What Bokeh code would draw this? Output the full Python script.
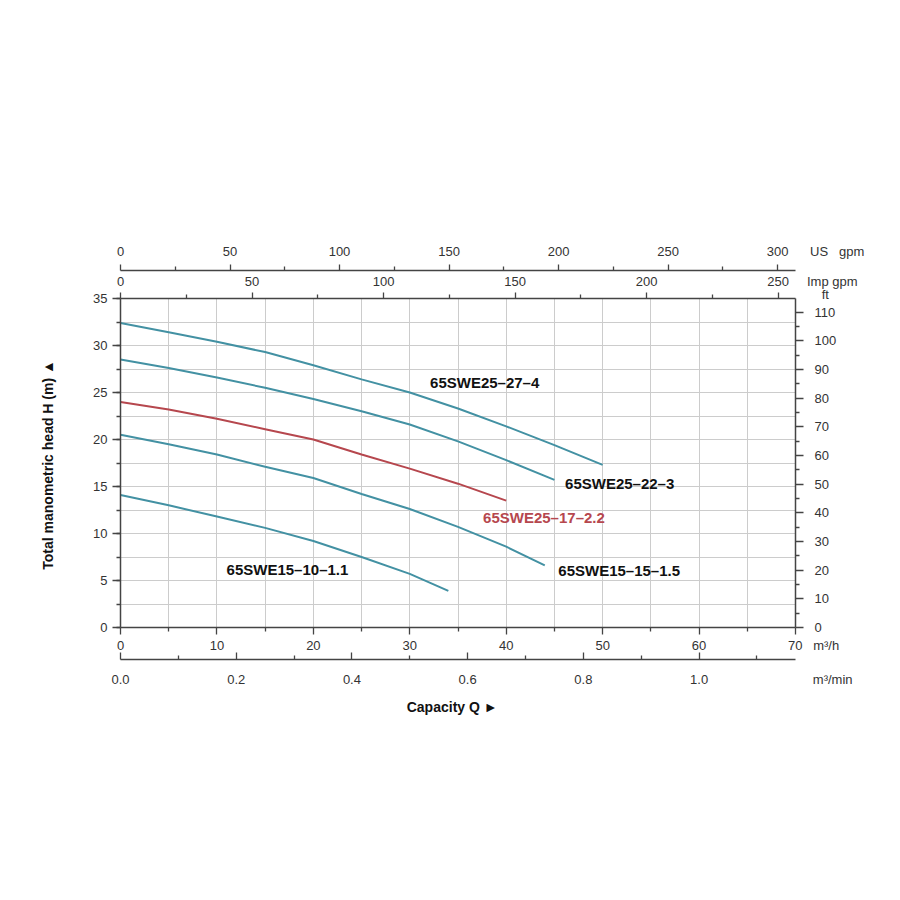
from bokeh.plotting import figure
from bokeh.models import LinearAxis, Range1d, FixedTicker, PrintfTickFormatter
from bokeh.core.properties import value
from bokeh.embed import file_html
from bokeh.resources import INLINE

# pump curves: capacity Q (m3/h) against head H (m)
q_27_4 = [0, 5, 10, 15, 20, 25, 30, 35, 40, 45, 50]
h_27_4 = [32.4, 31.4, 30.4, 29.3, 27.9, 26.4, 25.0, 23.3, 21.4, 19.4, 17.3]

q_22_3 = [0, 5, 10, 15, 20, 25, 30, 35, 40, 45]
h_22_3 = [28.5, 27.6, 26.6, 25.5, 24.3, 23.0, 21.6, 19.8, 17.8, 15.7]

q_17_22 = [0, 5, 10, 15, 20, 25, 30, 35, 40]
h_17_22 = [24.0, 23.2, 22.2, 21.1, 20.0, 18.4, 16.9, 15.3, 13.5]

q_15_15 = [0, 5, 10, 15, 20, 25, 30, 35, 40, 44]
h_15_15 = [20.5, 19.5, 18.4, 17.1, 15.9, 14.2, 12.6, 10.7, 8.6, 6.6]

q_10_11 = [0, 5, 10, 15, 20, 25, 30, 34]
h_10_11 = [14.1, 13.0, 11.8, 10.6, 9.2, 7.5, 5.7, 3.9]

curve_names = ["65SWE25–27–4", "65SWE25–22–3", "65SWE25–17–2.2", "65SWE15–15–1.5", "65SWE15–10–1.1"]

# unit conversions for the secondary scales
US_GPM = 4.40287   # per m3/h
IMP_GPM = 3.66615  # per m3/h
FT = 3.28084       # per m

TEAL = "#4391a3"
RED = "#b6474e"
AXIS = "#444444"
FONT = "Liberation Sans"
NBSP = "\u00a0"

# Arial / Liberation Sans advance widths (em), for padding the unit names
ADV = {"0": .556, "1": .556, "2": .556, "3": .556, "5": .556, "7": .556, ".": .278, NBSP: .278,
       "U": .722, "S": .667, "g": .556, "p": .556, "m": .833, "I": .278, "h": .556,
       "/": .278, "³": .333, "i": .222, "n": .556}


def text_w(s):
    return sum(ADV[c] for c in s)


def with_unit(num, gap, unit):
    # unit name written after the last tick label; the blank padding on the left
    # keeps the number itself centred on its tick
    right = NBSP * gap + unit
    n = round(text_w(right) / ADV[NBSP])
    return NBSP * n + num + right


p = figure(width=890, height=890, x_range=Range1d(0, 70), y_range=Range1d(0, 35),
           output_backend="svg", toolbar_location=None,
           min_border_left=120, min_border_right=95, min_border_top=298, min_border_bottom=263)
p.outline_line_color = None
p.background_fill_color = "white"

p.extra_x_ranges = {"us": Range1d(0, 70 * US_GPM), "imp": Range1d(0, 70 * IMP_GPM),
                    "min": Range1d(0, 70 / 60)}
p.extra_y_ranges = {"ft": Range1d(0, 35 * FT)}

# grid
p.xgrid.ticker = FixedTicker(ticks=list(range(0, 71, 5)))
p.ygrid.ticker = FixedTicker(ticks=[i * 2.5 for i in range(15)])
p.grid.grid_line_color = "#cccccc"
p.grid.grid_line_width = 1


def style(ax, tick_in=0, tick_out=7):
    ax.axis_line_color = AXIS
    ax.axis_line_width = 1.5
    ax.major_tick_line_color = AXIS
    ax.minor_tick_line_color = AXIS
    ax.major_tick_line_width = 1.3
    ax.minor_tick_line_width = 1.3
    ax.major_tick_in = tick_in
    ax.major_tick_out = tick_out
    ax.minor_tick_in = 4 if tick_in else 0
    ax.minor_tick_out = 4 if tick_out else 0
    ax.major_label_text_font = FONT
    ax.major_label_text_font_size = "13px"
    ax.major_label_text_color = "#333333"
    ax.axis_label_text_font = FONT
    ax.axis_label_text_font_style = "bold"
    ax.axis_label_text_font_size = "14px"
    ax.axis_label_text_color = "#111111"


def spacer(ax, size):
    # blank axis label, only to push the next stacked axis outwards
    ax.axis_label = " "
    ax.axis_label_text_font_size = "%dpx" % size
    ax.axis_label_standoff = 0


# left: head in m
ya = p.yaxis[0]
ya.ticker = FixedTicker(ticks=list(range(0, 36, 5)), minor_ticks=[i * 2.5 for i in range(15)])
style(ya, tick_out=8)
ya.axis_label = "Total manometric head H (m)  ▲"
ya.axis_label_standoff = 34

# bottom: m3/h
xa = p.xaxis[0]
xa.ticker = FixedTicker(ticks=list(range(0, 71, 10)), minor_ticks=list(range(5, 70, 10)))
style(xa)
xa.major_label_standoff = 3
xa.major_label_overrides = {70: with_unit("70", 3, "m³/h")}
spacer(xa, 1)

# bottom 2: m3/min
xmin = LinearAxis(x_range_name="min",
                  ticker=FixedTicker(ticks=[0, 0.2, 0.4, 0.6, 0.8, 1.0],
                                     minor_ticks=[0.1, 0.3, 0.5, 0.7, 0.9, 1.1]),
                  formatter=PrintfTickFormatter(format="%.1f"))
style(xmin, tick_in=7, tick_out=0)
xmin.major_label_standoff = 12
xmin.major_label_overrides = {1.0: with_unit("1.0", 29, "m³/min")}
xmin.axis_label = "Capacity Q    ►"
xmin.axis_label_standoff = 9
p.add_layout(xmin, "below")

# top: Imp gpm (next to frame), then US gpm
ximp = LinearAxis(x_range_name="imp",
                  ticker=FixedTicker(ticks=list(range(0, 251, 50)), minor_ticks=list(range(25, 251, 50))))
style(ximp, tick_out=6)
ximp.major_label_standoff = 4
ximp.major_label_overrides = {250: with_unit("250", 5, "Imp" + NBSP + "gpm")}
p.add_layout(ximp, "above")

xus = LinearAxis(x_range_name="us",
                 ticker=FixedTicker(ticks=list(range(0, 301, 50)), minor_ticks=list(range(25, 301, 50))))
style(xus, tick_out=6)
xus.major_label_standoff = 6
xus.major_label_overrides = {300: with_unit("300", 6, "US" + NBSP * 3 + "gpm")}
p.add_layout(xus, "above")

# right: ft, unit name sits above the top label
yft = LinearAxis(y_range_name="ft",
                 ticker=FixedTicker(ticks=list(range(0, 111, 10)), minor_ticks=list(range(5, 115, 10))))
style(yft, tick_out=8)
yft.major_label_standoff = 11
yft.major_label_overrides = {110: NBSP * 2 + "ft\n110\n" + NBSP}
p.add_layout(yft, "right")

# curves
p.line(q_27_4, h_27_4, line_color=TEAL, line_width=2)
p.line(q_22_3, h_22_3, line_color=TEAL, line_width=2)
p.line(q_17_22, h_17_22, line_color=RED, line_width=2)
p.line(q_15_15, h_15_15, line_color=TEAL, line_width=2)
p.line(q_10_11, h_10_11, line_color=TEAL, line_width=2)

# curve names
p.text(x=[32.1, 46.1, 37.6, 45.4, 11.0], y=[26.1, 15.3, 11.7, 6.1, 6.2], text=curve_names,
       text_color=["#111111", "#111111", RED, "#111111", "#111111"],
       text_font=value(FONT), text_font_style="bold", text_font_size="15px",
       text_align="left", text_baseline="middle")

open("out.html", "w").write(file_html(p, INLINE))
